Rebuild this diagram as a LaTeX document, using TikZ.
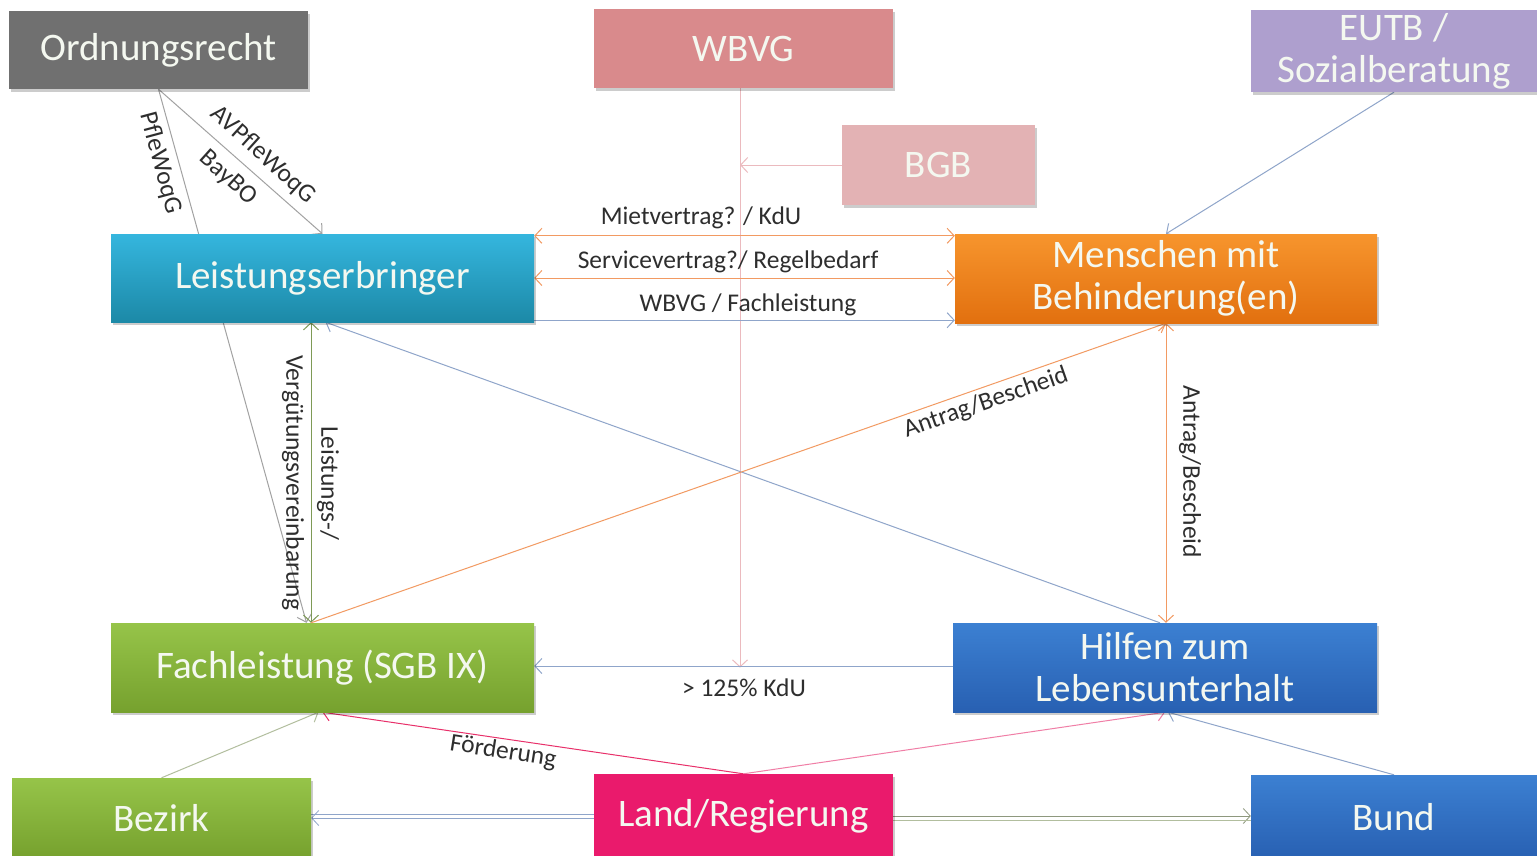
\documentclass[tikz,border=0pt]{standalone}
\usepackage{fontspec}
\setmainfont{Carlito}
\usetikzlibrary{arrows.meta,shadows,backgrounds,calc}
\newcommand\boxfnt{\fontsize{39}{42}\selectfont}
\newcommand\lblfnt{\fontsize{25.5}{28}\selectfont}
\definecolor{cgray}{HTML}{707070}
\definecolor{cwbvg}{HTML}{D98A8C}
\definecolor{cbgb}{HTML}{E3B2B4}
\definecolor{ceutb}{HTML}{AE9FCE}
\definecolor{ccyanT}{HTML}{35B6DE}
\definecolor{ccyanB}{HTML}{1C89A7}
\definecolor{corT}{HTML}{F7952D}
\definecolor{corB}{HTML}{E2700F}
\definecolor{cgrT}{HTML}{96C449}
\definecolor{cgrB}{HTML}{76A12E}
\definecolor{cblT}{HTML}{3C80D2}
\definecolor{cblB}{HTML}{2860B2}
\definecolor{cland}{HTML}{EA1A6C}
\definecolor{egray}{HTML}{A2A2A2}
\definecolor{eor}{HTML}{F29A62}
\definecolor{eblue}{HTML}{8FA5CA}
\definecolor{eolive}{HTML}{7E9A56}
\definecolor{epink}{HTML}{EBBABE}
\definecolor{emag}{HTML}{E8306A}
\definecolor{epk}{HTML}{F07EA6}
\definecolor{egreen}{HTML}{B2BE9E}
\definecolor{elbl}{HTML}{2E2E2E}
\definecolor{boxtxt}{HTML}{F4F8F0}
\begin{document}
\begin{tikzpicture}[x=1pt,y=-1pt,
  box/.style={rectangle, inner sep=0pt, align=center, text=boxtxt, font=\boxfnt,
    drop shadow={shadow xshift=2pt, shadow yshift=-3pt, opacity=0.2, fill=black}},
  lbl/.style={font=\lblfnt, text=elbl, inner sep=1pt},
  arr/.style={-{Straight Barb[length=7pt,width=15pt]}},
  darr/.style={{Straight Barb[length=7pt,width=15pt]}-{Straight Barb[length=7pt,width=15pt]}},
  edge/.style={line width=1pt}]
\useasboundingbox (0,0) rectangle (1537,855);

% boxes
\node[box, fill=cgray, minimum width=299pt, minimum height=78pt] (ord) at (158.5,50) {Ordnungsrecht};
\node[box, fill=cwbvg, minimum width=299pt, minimum height=79pt] (wbvg) at (743.5,48.5) {WBVG};
\node[box, fill=cbgb, minimum width=193pt, minimum height=80pt] (bgb) at (938.5,165) {BGB};
\node[box, fill=ceutb, minimum width=286pt, minimum height=82pt] (eutb) at (1394,51) {EUTB /\\Sozialberatung};
\node[box, top color=ccyanT, bottom color=ccyanB, minimum width=423pt, minimum height=88pt] (le) at (322.5,278) {Leistungserbringer};
\node[box, top color=corT, bottom color=corB, minimum width=422pt, minimum height=89pt] (mmb) at (1166,278.5) {Menschen mit\\Behinderung(en)};
\node[box, top color=cgrT, bottom color=cgrB, minimum width=423pt, minimum height=89pt] (fl) at (322.5,667.5) {Fachleistung (SGB IX)};
\node[box, top color=cblT, bottom color=cblB, minimum width=424pt, minimum height=89pt] (hzl) at (1165,667.5) {Hilfen zum\\Lebensunterhalt};
\node[box, top color=cgrT, bottom color=cgrB, minimum width=299pt, minimum height=80pt] (bez) at (161.5,818) {Bezirk};
\node[box, fill=cland, minimum width=299pt, minimum height=84pt] (land) at (743.5,816) {Land/Regierung};
\node[box, top color=cblT, bottom color=cblB, minimum width=286pt, minimum height=84pt] (bund) at (1394,817) {Bund};

\begin{scope}[on background layer]
\fill[white] (0,0) rectangle (1537,855);
% Ordnungsrecht
\draw[edge, egray, arr] (ord.south) -- ([xshift=-16pt]fl.north);
\draw[edge, egray, arr] (ord.south) -- (le.north);
% WBVG vertical and BGB
\coordinate (wtop) at ([xshift=-3.5pt]wbvg.south);
\coordinate (wend) at (wtop |- hzl.west);
\draw[edge, epink, arr] (wtop) -- (wend);
\draw[edge, epink, arr] (bgb.west) -- (bgb.west -| wtop);
% horizontal le <-> mmb
\draw[edge, eor, darr] ([yshift=-2pt]le.north east) -- ([yshift=-2pt]mmb.north west);
\draw[edge, eor, darr] (le.east) -- (le.east -| mmb.west);
\draw[edge, eblue, arr] ([yshift=2pt]le.south east) -- ([yshift=2pt]le.south east -| mmb.west);
% verticals and diagonals
\draw[edge, eolive, darr] ([xshift=-11.5pt]le.south) -- ([xshift=-11.5pt]fl.north);
\draw[edge, eblue, arr] ([xshift=-5pt]hzl.north) -- ([xshift=3pt]le.south);
\draw[edge, eor, arr] ([xshift=-11.5pt]fl.north) -- (mmb.south);
\draw[edge, eor, darr] (mmb.south) -- (mmb.south |- hzl.north);
% hzl -> fl
\draw[edge, eblue, arr] ([yshift=1.5pt]hzl.west) -- ([yshift=1.5pt]hzl.west -| fl.east);
% bottom row
\draw[edge, emag, arr] (land.north) -- (fl.south);
\draw[edge, epk, arr] (land.north) -- (hzl.south);
\draw[edge, egreen, arr] (bez.north) -- ([xshift=-4pt]fl.south);
\draw[edge, eblue, arr] (bund.north) -- ([xshift=3pt]hzl.south);
\draw[line width=0.8pt, eblue, arr] ([yshift=-2pt]land.west) -- ([yshift=-2pt]land.west -| bez.east);
\draw[line width=0.8pt, eblue] ([yshift=2pt]land.west) -- ([yshift=2pt]land.west -| bez.east);
\draw[line width=0.8pt, egreen!80!black, arr] (land.east) -- (land.east -| bund.west);
\draw[line width=0.8pt, egreen] ([yshift=-4pt]land.east) -- ([yshift=-4pt]land.east -| bund.west);
% EUTB
\draw[edge, eblue, arr] (eutb.south) -- (mmb.north);
\end{scope}

% labels
\node[lbl, rotate=-75] (lpf) at (160,163) {PfleWoqG};
\node[lbl, rotate=-42] (lav) at (263,155) {AVPfleWoqG};
\node[lbl, rotate=-42] (lbay) at (228,178) {BayBO};
\node[lbl] (lmiet) at (701,218) {Mietvertrag? / KdU};
\node[lbl] (lserv) at (728,262) {Servicevertrag?/ Regelbedarf};
\node[lbl] (lwf) at (748,305) {WBVG / Fachleistung};
\node[lbl, rotate=-90] (lleis) at (328,483) {Leistungs-/};
\node[lbl, rotate=-90] (lverg) at (293,483) {Vergütungsvereinbarung};
\node[lbl, rotate=19.3] (lant1) at (986,403) {Antrag/Bescheid};
\node[lbl, rotate=-90] (lant2) at (1190,472) {Antrag/Bescheid};
\node[lbl] (lkdu) at (744,688) {> 125\% KdU};
\node[lbl, rotate=-9] (lfoe) at (503,752) {Förderung};
\end{tikzpicture}
\end{document}
